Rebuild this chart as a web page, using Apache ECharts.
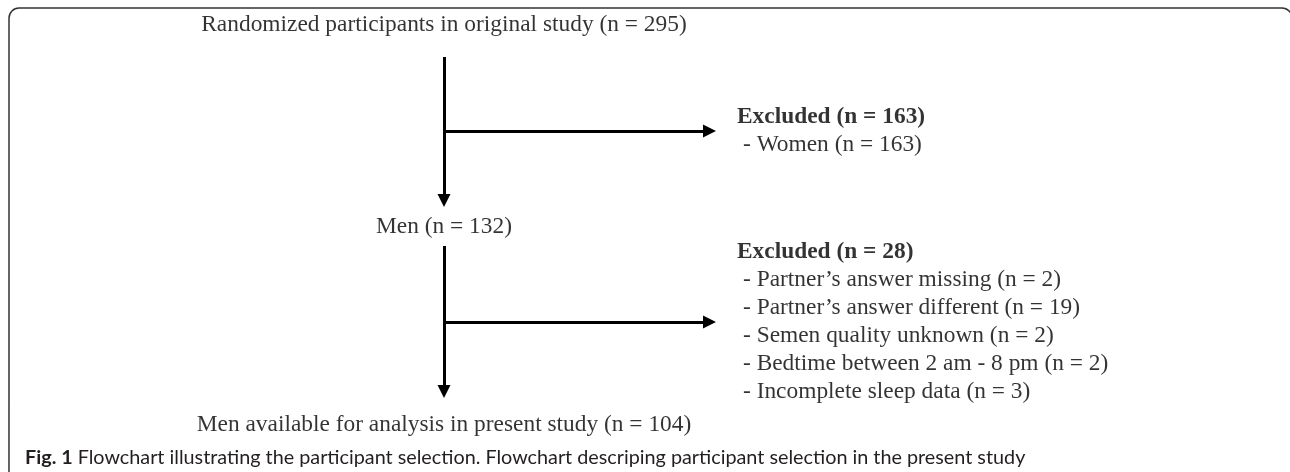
<!DOCTYPE html>
<html>
<head>
<meta charset="utf-8">
<script src="https://cdn.jsdelivr.net/npm/echarts@6/dist/echarts.min.js"></script>
<style>
html,body{margin:0;padding:0;background:#fff;}
#chart{width:1290px;height:472px;}
</style>
</head>
<body>
<div id="chart"></div>
<script>
// ---- data ----
const stageLabels = ['Randomized participants in original study', 'Men', 'Men available for analysis in present study'];
const stageCounts = [295, 132, 104];
const exclusionLabels = ['Excluded', 'Excluded'];
const exclusionCounts = [163, 28];
const reasons1 = ['Women'];
const reasons1Counts = [163];
const reasons2 = ['Partner\u2019s answer missing', 'Partner\u2019s answer different', 'Semen quality unknown', 'Bedtime between 2 am - 8 pm', 'Incomplete sleep data'];
const reasons2Counts = [2, 19, 2, 2, 3];
const captionBold = 'Fig. 1';
const captionText = 'Flowchart illustrating the participant selection. Flowchart descriping participant selection in the present study';

// ---- layout (canvas-like coordinate space through hidden value axes) ----
const W = 1290, H = 472;
const L = {
  mainX: 444,
  stageY: [25, 227, 425],
  trunkStart: [57, 246],
  trunkTip: [207, 398],
  branchY: [131, 322],
  branchTipX: 716,
  exclX: 737,
  reasonX: 743,
  exclY: [117, 252],
  lineStep: 28,
  arrow: 13
};

const fmt = (label, n) => label + ' (n = ' + n + ')';

const stagePoints = stageLabels.map((s, i) => ({ value: [L.mainX, L.stageY[i]], name: fmt(s, stageCounts[i]) }));
const exclPoints = exclusionLabels.map((s, i) => ({ value: [L.exclX, L.exclY[i]], name: fmt(s, exclusionCounts[i]) }));
const reasonPoints = [];
[[reasons1, reasons1Counts], [reasons2, reasons2Counts]].forEach(([labels, counts], g) => {
  labels.forEach((s, i) => {
    reasonPoints.push({ value: [L.reasonX, L.exclY[g] + (i + 1) * L.lineStep], name: '- ' + fmt(s, counts[i]) });
  });
});

const half = L.arrow / 2;
const arrows = [];
for (let g = 0; g < 2; g++) {
  arrows.push({ coords: [[L.mainX, L.trunkStart[g]], [L.mainX, L.trunkTip[g] - half]] });
  arrows.push({ coords: [[L.mainX, L.branchY[g]], [L.branchTipX - half, L.branchY[g]]] });
}

const serif = '"Liberation Serif", "Times New Roman", serif';
const sans = 'Lato, "Open Sans", sans-serif';
const chart = echarts.init(document.getElementById('chart'), null, { renderer: 'canvas' });
chart.setOption({
  animation: false,
  backgroundColor: '#fff',
  title: {
    left: 20, top: 443,
    text: '{b|' + captionBold + '} ' + captionText,
    textStyle: {
      fontFamily: sans, fontSize: 19.8, fontWeight: 'normal', color: '#231f20',
      rich: { b: { fontWeight: 'bold', fontFamily: sans, fontSize: 19.8, color: '#231f20' } }
    }
  },
  graphic: [{
    type: 'rect', silent: true,
    shape: { x: 9, y: 8, width: 1283, height: 480, r: 10 },
    style: { fill: 'none', stroke: '#333', lineWidth: 1.5 }
  }],
  grid: { left: 0, right: 0, top: 0, bottom: 0 },
  xAxis: { type: 'value', min: 0, max: W, show: false },
  yAxis: { type: 'value', min: 0, max: H, inverse: true, show: false },
  series: [
    {
      type: 'lines', coordinateSystem: 'cartesian2d', silent: true,
      symbol: ['none', 'triangle'], symbolSize: L.arrow,
      lineStyle: { color: '#000', width: 3, opacity: 1 },
      data: arrows
    },
    {
      type: 'scatter', symbolSize: 0, silent: true, data: stagePoints,
      label: { show: true, position: 'inside', align: 'center', verticalAlign: 'middle', formatter: p => p.name,
        fontFamily: serif, fontSize: 23.4, color: '#000' }
    },
    {
      type: 'scatter', symbolSize: 0, silent: true, data: exclPoints,
      label: { show: true, position: 'inside', align: 'left', verticalAlign: 'middle', formatter: p => p.name,
        fontFamily: serif, fontSize: 23.4, fontWeight: 'bold', color: '#000' }
    },
    {
      type: 'scatter', symbolSize: 0, silent: true, data: reasonPoints,
      label: { show: true, position: 'inside', align: 'left', verticalAlign: 'middle', formatter: p => p.name,
        fontFamily: serif, fontSize: 23.4, color: '#000' }
    }
  ]
});
</script>
</body>
</html>
